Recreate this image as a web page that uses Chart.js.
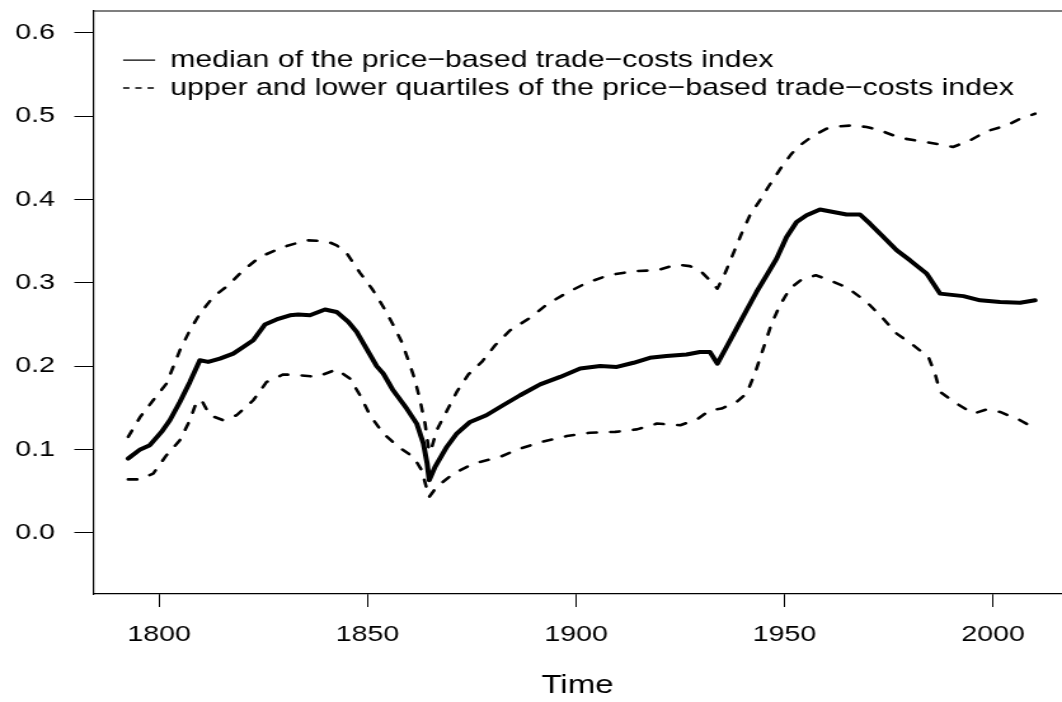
<!DOCTYPE html>
<html>
<head>
<meta charset="utf-8">
<script src="https://cdn.jsdelivr.net/npm/chart.js@4.4.1/dist/chart.umd.min.js"></script>
<style>
  html, body { margin: 0; padding: 0; background: #ffffff; overflow: hidden; }
  #c { display: block; }
</style>
</head>
<body>
<canvas id="c" width="836" height="702" style="width:1062px;height:702px;"></canvas>
<script>
// ---- data ----
const medianYears = [1792.6,1795.5,1797.8,1800.6,1802.6,1805.0,1807.4,1809.8,1811.8,1814.6,1817.8,1820.2,1822.6,1825.4,1828.2,1831.4,1833.4,1836.2,1839.8,1842.6,1845.4,1847.4,1849.4,1852.2,1853.8,1856.0,1859.4,1861.8,1863.4,1864.3,1864.8,1866.2,1869.0,1871.4,1874.6,1878.5,1882.5,1886.6,1891.4,1896.2,1901.0,1905.8,1909.8,1913.8,1917.7,1921.7,1926.5,1929.7,1932.1,1933.9,1936.1,1938.5,1940.9,1943.3,1945.7,1948.1,1950.5,1952.9,1955.3,1958.5,1961.7,1964.9,1968.1,1970.5,1973.3,1976.9,1980.1,1984.1,1987.3,1992.9,1996.9,2001.7,2006.5,2010.1];
const medianValues = [0.089,0.100,0.105,0.121,0.135,0.157,0.181,0.207,0.205,0.209,0.215,0.223,0.231,0.250,0.256,0.261,0.262,0.261,0.268,0.265,0.253,0.241,0.224,0.200,0.191,0.172,0.149,0.131,0.107,0.083,0.063,0.079,0.103,0.119,0.133,0.141,0.153,0.165,0.178,0.187,0.197,0.200,0.199,0.204,0.210,0.212,0.214,0.217,0.217,0.203,0.223,0.245,0.267,0.289,0.309,0.329,0.355,0.373,0.381,0.388,0.385,0.382,0.382,0.371,0.357,0.339,0.327,0.311,0.287,0.284,0.279,0.277,0.276,0.279];

const upperYears = [1792.6,1795.5,1798.6,1801.8,1805.0,1807.4,1809.8,1813.0,1816.6,1820.2,1824.2,1829.8,1835.4,1840.2,1842.6,1845.2,1848.2,1851.2,1853.8,1856.2,1858.2,1859.8,1861.4,1862.6,1863.8,1864.6,1865.1,1866.6,1869.1,1871.4,1874.2,1877.4,1880.6,1884.2,1889.0,1893.0,1897.8,1902.6,1907.8,1913.8,1919.4,1924.2,1927.3,1929.7,1932.1,1933.9,1935.7,1937.7,1939.7,1941.7,1944.1,1946.1,1949.3,1951.7,1953.7,1956.7,1960.1,1963.5,1966.5,1969.7,1972.9,1977.7,1982.5,1987.3,1990.4,1994.5,1998.5,2003.3,2006.5,2010.1];
const upperValues = [0.115,0.139,0.159,0.179,0.219,0.243,0.263,0.283,0.297,0.315,0.331,0.343,0.351,0.350,0.345,0.334,0.312,0.292,0.271,0.249,0.229,0.207,0.183,0.159,0.131,0.103,0.097,0.123,0.147,0.169,0.190,0.205,0.225,0.243,0.258,0.274,0.288,0.300,0.309,0.314,0.315,0.322,0.320,0.315,0.303,0.293,0.311,0.335,0.359,0.381,0.399,0.415,0.439,0.455,0.465,0.476,0.485,0.488,0.489,0.487,0.483,0.474,0.470,0.466,0.463,0.471,0.482,0.489,0.497,0.503];

const lowerYears = [1792.6,1795.5,1798.6,1801.8,1805.0,1807.4,1809.0,1810.2,1812.2,1815.4,1818.6,1822.6,1825.8,1829.8,1833.8,1837.8,1842.6,1845.8,1848.2,1850.6,1853.8,1857.4,1861.0,1863.0,1864.3,1864.8,1866.6,1870.6,1875.4,1881.8,1886.6,1891.8,1897.8,1903.4,1909.4,1914.6,1919.4,1925.0,1929.0,1932.1,1934.9,1938.5,1940.9,1942.9,1944.9,1946.9,1948.9,1951.3,1954.1,1957.5,1960.9,1965.1,1969.7,1973.3,1976.9,1980.9,1984.5,1986.1,1987.3,1991.3,1995.3,1998.5,2001.7,2006.5,2010.1];
const lowerValues = [0.064,0.064,0.071,0.093,0.111,0.135,0.157,0.159,0.141,0.135,0.141,0.159,0.181,0.190,0.189,0.187,0.196,0.185,0.165,0.141,0.119,0.103,0.091,0.075,0.051,0.043,0.055,0.071,0.083,0.091,0.101,0.109,0.116,0.120,0.121,0.124,0.131,0.129,0.136,0.147,0.149,0.157,0.167,0.191,0.221,0.251,0.273,0.293,0.304,0.309,0.303,0.294,0.277,0.259,0.239,0.225,0.211,0.191,0.169,0.155,0.143,0.148,0.145,0.135,0.125];

const xTickValues = [1800, 1850, 1900, 1950, 2000];
const xTickLabels = ['1800', '1850', '1900', '1950', '2000'];
const yTickValues = [0.0, 0.1, 0.2, 0.3, 0.4, 0.5, 0.6];
const yTickLabels = ['0.0', '0.1', '0.2', '0.3', '0.4', '0.5', '0.6'];
const xAxisTitle = 'Time';
const legendTexts = ['median of the price\u2212based trade\u2212costs index',
                     'upper and lower quartiles of the price\u2212based trade\u2212costs index'];

// ---- chart ----
const FONT = "'Liberation Sans', Arimo, Arial, sans-serif";
const toPts = (xs, ys) => xs.map((x, i) => ({ x: x, y: ys[i] }));

const LEG_X = 96.9, LEG_Y = 48.3;

const boxTopPlugin = {
  id: 'boxTop',
  afterLayout(chart) {
    const lg = chart.legend;
    if (lg) {
      const pad = lg.options.labels.padding;
      lg.left = LEG_X - pad;
      lg.top = LEG_Y - pad;
      lg.right = lg.left + 760;
      lg.bottom = lg.top + 300;
      lg.width = 760;
      lg.height = 300;
    }
  },
  afterDraw(chart) {
    const a = chart.chartArea, ctx = chart.ctx;
    ctx.save();
    ctx.strokeStyle = '#000';
    ctx.lineWidth = 1.2;
    ctx.beginPath();
    ctx.moveTo(a.left, a.top);
    ctx.lineTo(a.right, a.top);
    ctx.stroke();
    ctx.restore();
  }
};

new Chart(document.getElementById('c'), {
  type: 'line',
  data: {
    datasets: [
      { label: legendTexts[0], data: toPts(medianYears, medianValues),
        borderColor: '#000', borderWidth: 4, pointRadius: 0, fill: false, tension: 0,
        borderJoinStyle: 'round', borderCapStyle: 'round' },
      { label: legendTexts[1], data: toPts(upperYears, upperValues),
        borderColor: '#000', borderWidth: 2.6, borderDash: [7, 11], pointRadius: 0, fill: false, tension: 0,
        borderJoinStyle: 'round', borderCapStyle: 'round' },
      { label: 'lower', data: toPts(lowerYears, lowerValues),
        borderColor: '#000', borderWidth: 2.6, borderDash: [7, 11], pointRadius: 0, fill: false, tension: 0,
        borderJoinStyle: 'round', borderCapStyle: 'round' }
    ]
  },
  options: {
    responsive: false,
    devicePixelRatio: 1,
    animation: false,
    layout: { padding: { top: 11, left: 0, right: 0, bottom: 0 } },
    plugins: {
      tooltip: { enabled: false },
      legend: {
        display: true,
        position: 'chartArea',
        align: 'start',
        labels: {
          usePointStyle: true,
          pointStyleWidth: 25.2,
          padding: 4.0,
          color: '#000',
          font: { family: FONT, size: 23.8 },
          generateLabels: () => [
            { text: legendTexts[0], fillStyle: 'rgba(0,0,0,0)', strokeStyle: '#000', lineWidth: 1.3,
              lineDash: [], pointStyle: 'line', hidden: false, datasetIndex: 0, fontColor: '#000' },
            { text: legendTexts[1], fillStyle: 'rgba(0,0,0,0)', strokeStyle: '#000', lineWidth: 1.3,
              lineDash: [5, 4.6], pointStyle: 'line', hidden: false, datasetIndex: 1, fontColor: '#000' }
          ]
        }
      }
    },
    scales: {
      x: {
        type: 'linear',
        min: 1784.17,
        max: 2016.55,
        afterBuildTicks: (s) => { s.ticks = xTickValues.map(v => ({ value: v })); },
        afterFit: (s) => { s.height = 108; s.paddingLeft = 0; s.paddingRight = 0; },
        ticks: {
          color: '#000',
          font: { family: FONT, size: 22.5 },
          padding: 14.7,
          maxRotation: 0,
          autoSkip: false,
          callback: (v, i) => xTickLabels[i]
        },
        grid: { display: true, drawOnChartArea: false, drawTicks: true, tickLength: 13, tickColor: '#000', tickWidth: 1 },
        border: { display: true, color: '#000', width: 1.2 },
        title: { display: true, text: xAxisTitle, color: '#000', font: { family: FONT, size: 26 }, padding: { top: 0, bottom: 0.5 } }
      },
      y: {
        type: 'linear',
        min: -0.0736,
        max: 0.6263,
        afterBuildTicks: (s) => { s.ticks = yTickValues.map(v => ({ value: v })); },
        afterFit: (s) => { s.width = 73.2; s.paddingTop = 0; s.paddingBottom = 0; },
        ticks: {
          color: '#000',
          font: { family: FONT, size: 22.5 },
          padding: 15.2,
          autoSkip: false,
          callback: (v, i) => yTickLabels[i]
        },
        grid: { display: true, drawOnChartArea: false, drawTicks: true, tickLength: 14.7, tickColor: '#000', tickWidth: 1 },
        border: { display: true, color: '#000', width: 1.2 }
      }
    }
  },
  plugins: [boxTopPlugin]
});
</script>
</body>
</html>
